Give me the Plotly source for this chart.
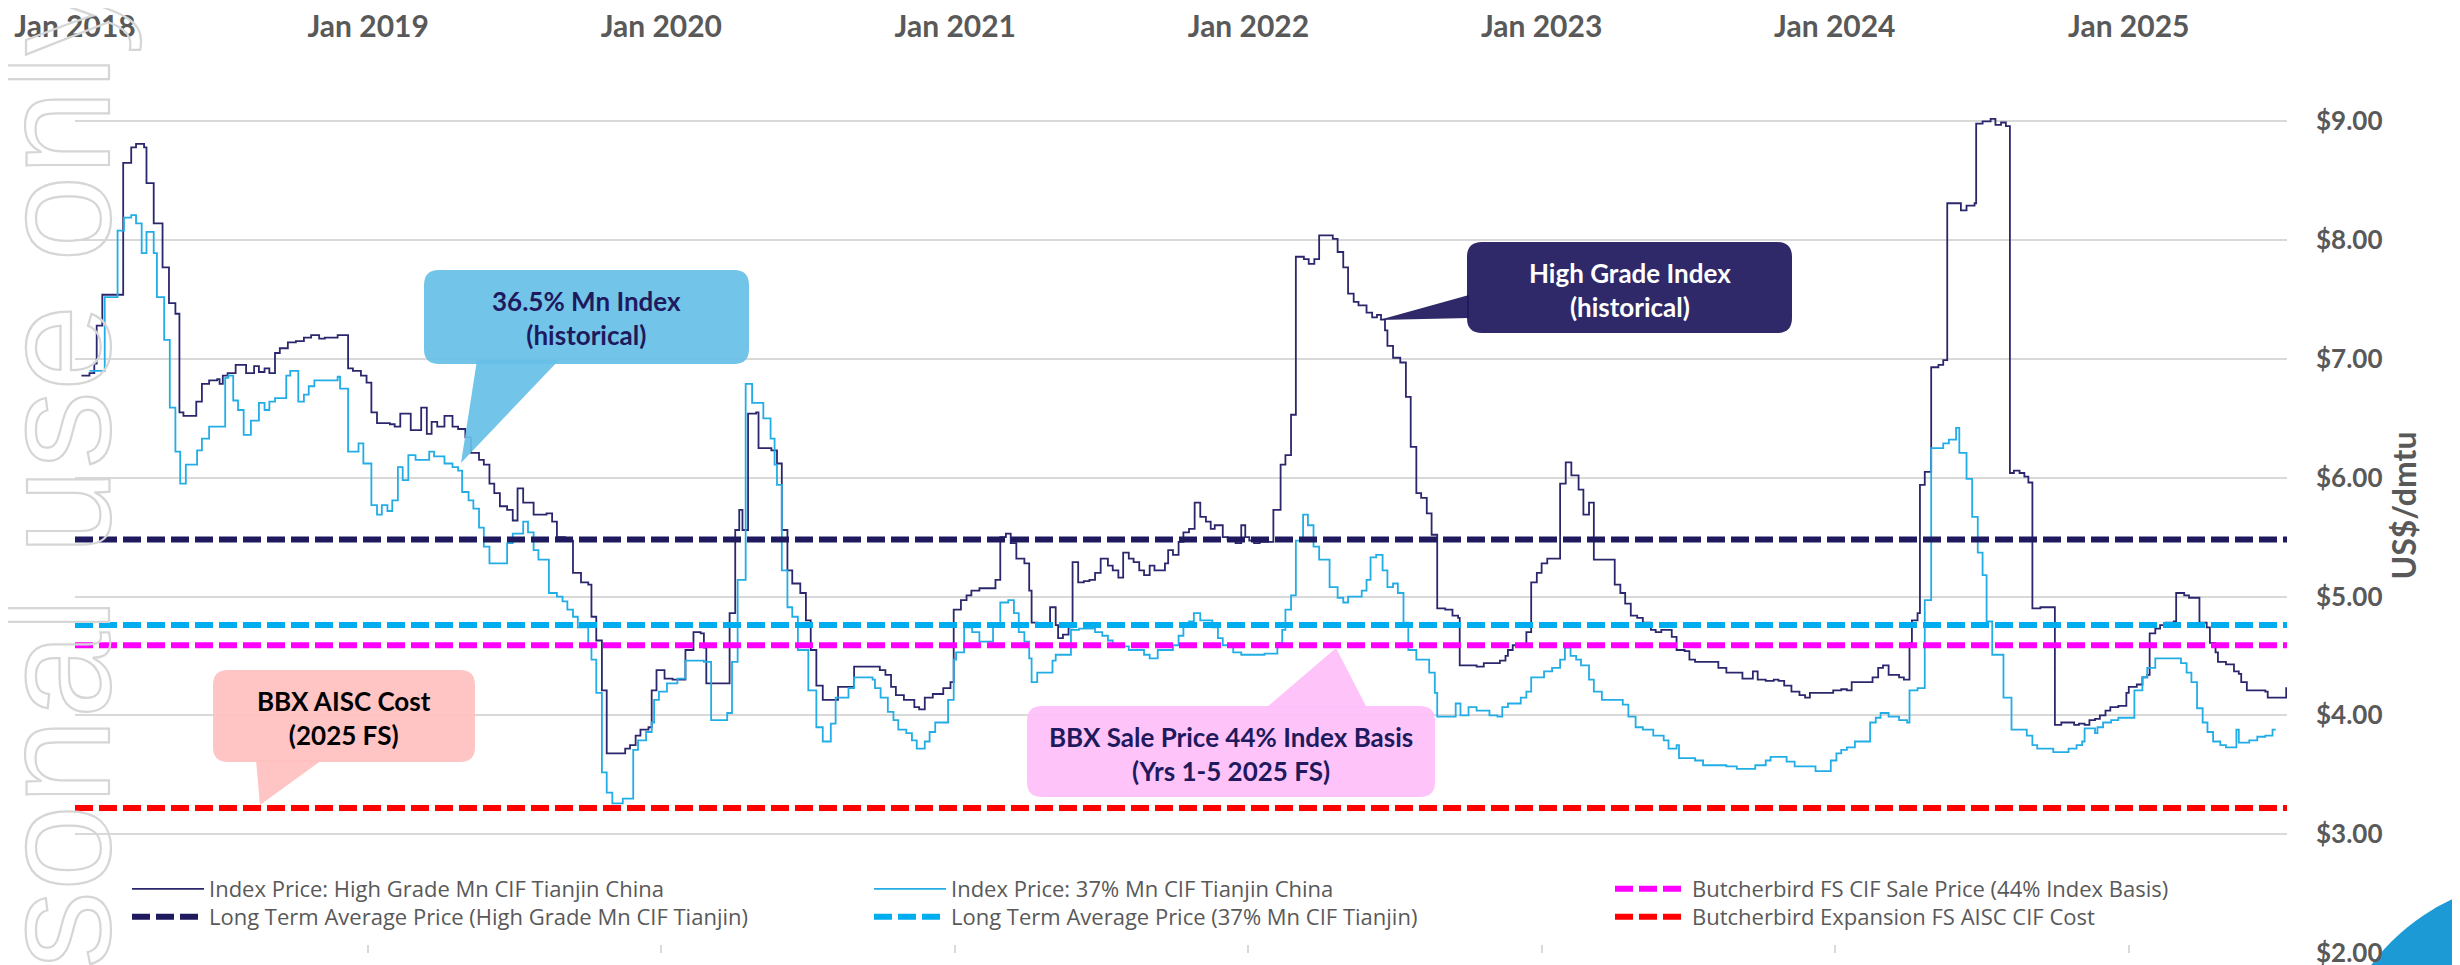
import pandas as pd
import plotly.graph_objects as go

# index prices: day offset from 1 Jan 2018, US$/dmtu (weekly steps)
hg_day = [8, 18, 24, 27, 34, 60, 70, 76, 86, 89, 98, 109, 117, 125, 130, 135, 151, 158, 167, 177,
          180, 184, 190, 200, 213, 223, 229, 236, 242, 249, 255, 265, 275, 285, 294, 304, 311, 327, 340, 346,
          356, 363, 369, 376, 392, 398, 405, 418, 431, 438, 444, 451, 460, 470, 477, 486, 493, 503, 509, 516,
          522, 529, 538, 545, 551, 558, 571, 587, 594, 600, 610, 620, 630, 639, 643, 649, 656, 662, 685, 691,
          698, 704, 714, 718, 724, 734, 744, 760, 770, 779, 783, 786, 815, 822, 827, 831, 838, 848, 851, 867,
          874, 880, 887, 893, 903, 910, 916, 923, 931, 950, 970, 1002, 1009, 1016, 1022, 1032, 1045, 1051, 1058, 1068,
          1081, 1090, 1094, 1103, 1110, 1116, 1126, 1146, 1152, 1159, 1165, 1172, 1182, 1188, 1191, 1198, 1214, 1221, 1224, 1230,
          1237, 1242, 1249, 1256, 1263, 1270, 1277, 1286, 1292, 1299, 1305, 1312, 1318, 1325, 1331, 1338, 1344, 1357, 1361, 1367,
          1374, 1380, 1387, 1394, 1401, 1408, 1414, 1419, 1429, 1435, 1445, 1452, 1457, 1462, 1468, 1475, 1492, 1501, 1507, 1514,
          1520, 1530, 1536, 1543, 1549, 1566, 1572, 1579, 1585, 1592, 1598, 1608, 1615, 1621, 1626, 1631, 1634, 1641, 1650, 1657,
          1663, 1670, 1676, 1683, 1689, 1696, 1706, 1715, 1722, 1724, 1745, 1754, 1774, 1781, 1784, 1790, 1807, 1813, 1820, 1826,
          1833, 1849, 1856, 1863, 1872, 1878, 1885, 1891, 1917, 1924, 1930, 1937, 1945, 1952, 1962, 1968, 1975, 1988, 1994, 2004,
          2010, 2017, 2046, 2056, 2076, 2089, 2095, 2105, 2115, 2121, 2128, 2137, 2147, 2154, 2160, 2189, 2199, 2206, 2212, 2238,
          2245, 2251, 2258, 2271, 2277, 2284, 2287, 2294, 2297, 2303, 2311, 2320, 2326, 2331, 2342, 2348, 2355, 2365, 2367, 2375,
          2385, 2391, 2398, 2404, 2409, 2414, 2421, 2427, 2432, 2437, 2447, 2465, 2473, 2489, 2495, 2502, 2508, 2515, 2521, 2528,
          2534, 2544, 2554, 2557, 2567, 2574, 2580, 2583, 2590, 2596, 2603, 2613, 2616, 2626, 2632, 2642, 2645, 2654, 2658, 2665,
          2668, 2678, 2688, 2694, 2697, 2704, 2727, 2730, 2753, 2757]
hg_val = [6.86, 6.88, 6.96, 7.28, 7.54, 8.65, 8.78, 8.81, 8.78, 8.48, 8.14, 7.77, 7.47, 7.38, 6.55, 6.52, 6.64, 6.79, 6.82, 6.83,
          6.79, 6.86, 6.88, 6.95, 6.88, 6.94, 6.89, 6.92, 6.88, 7.05, 7.09, 7.14, 7.15, 7.18, 7.20, 7.17, 7.18, 7.20, 6.92, 6.90,
          6.86, 6.80, 6.55, 6.46, 6.45, 6.43, 6.54, 6.40, 6.59, 6.37, 6.47, 6.43, 6.52, 6.43, 6.41, 6.34, 6.21, 6.15, 6.11, 5.95,
          5.87, 5.76, 5.73, 5.64, 5.91, 5.79, 5.69, 5.70, 5.63, 5.50, 5.47, 5.20, 5.12, 5.10, 4.83, 4.63, 4.21, 3.68, 3.72, 3.75,
          3.83, 3.88, 3.90, 4.21, 4.38, 4.31, 4.30, 4.55, 4.70, 4.69, 4.57, 4.27, 4.86, 5.56, 5.73, 5.56, 6.54, 6.55, 6.25, 6.23,
          6.12, 5.56, 5.22, 5.11, 5.03, 4.80, 4.55, 4.25, 4.13, 4.24, 4.41, 4.38, 4.34, 4.24, 4.17, 4.13, 4.07, 4.05, 4.15, 4.18,
          4.23, 4.28, 4.89, 4.97, 5.01, 5.05, 5.07, 5.14, 5.50, 5.53, 5.45, 5.32, 5.28, 5.05, 4.78, 4.75, 4.91, 4.76, 4.65, 4.68,
          4.74, 5.29, 5.12, 5.13, 5.14, 5.20, 5.32, 5.26, 5.22, 5.16, 5.37, 5.32, 5.29, 5.22, 5.18, 5.26, 5.22, 5.28, 5.39, 5.35,
          5.46, 5.54, 5.57, 5.79, 5.67, 5.63, 5.57, 5.60, 5.50, 5.48, 5.45, 5.60, 5.50, 5.47, 5.45, 5.46, 5.73, 6.11, 6.19, 6.53,
          7.86, 7.84, 7.80, 7.84, 8.04, 8.01, 7.90, 7.77, 7.55, 7.48, 7.45, 7.39, 7.35, 7.37, 7.33, 7.24, 7.11, 7.01, 6.97, 6.68,
          6.26, 5.87, 5.83, 5.70, 5.52, 4.90, 4.89, 4.84, 4.82, 4.42, 4.41, 4.44, 4.46, 4.50, 4.55, 4.59, 4.70, 5.12, 5.20, 5.28,
          5.32, 5.95, 6.13, 6.02, 5.90, 5.69, 5.79, 5.31, 5.10, 5.03, 4.94, 4.84, 4.82, 4.78, 4.72, 4.70, 4.72, 4.66, 4.55, 4.54,
          4.47, 4.45, 4.40, 4.36, 4.31, 4.37, 4.30, 4.29, 4.30, 4.29, 4.25, 4.20, 4.17, 4.15, 4.19, 4.21, 4.22, 4.21, 4.28, 4.32,
          4.40, 4.42, 4.34, 4.32, 4.30, 4.61, 4.80, 4.86, 5.94, 6.05, 6.93, 6.95, 6.99, 8.31, 8.31, 8.25, 8.29, 8.31, 8.98, 9.00,
          9.02, 8.97, 8.99, 8.96, 6.04, 6.06, 6.04, 6.01, 5.96, 4.90, 4.91, 3.92, 3.94, 3.92, 3.93, 3.92, 3.96, 3.97, 4.00, 4.04,
          4.07, 4.08, 4.19, 4.24, 4.26, 4.32, 4.34, 4.69, 4.73, 4.76, 4.78, 4.79, 5.03, 5.01, 4.99, 4.99, 4.78, 4.74, 4.61, 4.53,
          4.45, 4.43, 4.37, 4.35, 4.28, 4.21, 4.20, 4.15, 4.23, 4.23]

mn37_day = [18, 37, 53, 61, 70, 76, 83, 89, 98, 102, 111, 118, 125, 131, 138, 152, 158, 167, 187, 191,
            197, 203, 210, 219, 229, 236, 242, 249, 263, 268, 278, 285, 291, 298, 327, 330, 340, 353, 359, 369,
            376, 382, 389, 395, 402, 408, 415, 424, 441, 447, 460, 470, 477, 482, 490, 496, 503, 509, 516, 538,
            545, 558, 564, 571, 577, 590, 600, 607, 613, 620, 626, 639, 643, 649, 656, 662, 669, 682, 695, 701,
            711, 718, 721, 727, 737, 750, 760, 783, 792, 812, 818, 825, 835, 843, 857, 866, 871, 874, 880, 887,
            893, 900, 913, 923, 931, 941, 947, 963, 970, 993, 996, 1003, 1012, 1019, 1025, 1035, 1042, 1048, 1058, 1064,
            1071, 1087, 1094, 1097, 1107, 1117, 1126, 1143, 1152, 1162, 1169, 1175, 1182, 1188, 1191, 1198, 1217, 1221, 1240, 1250,
            1270, 1279, 1286, 1292, 1312, 1331, 1338, 1348, 1367, 1374, 1380, 1387, 1393, 1401, 1416, 1423, 1429, 1442, 1452, 1481,
            1497, 1503, 1507, 1514, 1520, 1529, 1535, 1542, 1549, 1562, 1572, 1579, 1585, 1602, 1608, 1613, 1620, 1628, 1634, 1641,
            1647, 1654, 1660, 1670, 1686, 1693, 1696, 1719, 1725, 1735, 1745, 1761, 1771, 1777, 1784, 1800, 1807, 1813, 1829, 1839,
            1849, 1855, 1862, 1869, 1875, 1885, 1891, 1901, 1927, 1934, 1943, 1952, 1965, 1978, 1984, 1994, 1997, 2017, 2027, 2056,
            2069, 2092, 2105, 2111, 2131, 2141, 2167, 2186, 2193, 2199, 2206, 2216, 2235, 2242, 2248, 2258, 2271, 2281, 2284, 2294,
            2303, 2311, 2326, 2333, 2342, 2346, 2355, 2362, 2369, 2375, 2380, 2387, 2401, 2411, 2430, 2437, 2443, 2463, 2482, 2492,
            2499, 2502, 2515, 2518, 2525, 2535, 2544, 2564, 2574, 2580, 2590, 2622, 2629, 2635, 2642, 2649, 2655, 2662, 2671, 2678,
            2691, 2694, 2707, 2717, 2727, 2736, 2740]
mn37_val = [6.90, 7.52, 8.08, 8.19, 8.21, 8.14, 7.89, 8.07, 7.89, 7.52, 7.16, 6.59, 6.22, 5.95, 6.11, 6.23, 6.33, 6.43, 6.84, 6.86,
            6.65, 6.57, 6.36, 6.48, 6.63, 6.57, 6.64, 6.67, 6.86, 6.90, 6.64, 6.70, 6.77, 6.82, 6.85, 6.75, 6.22, 6.29, 6.12, 5.77,
            5.69, 5.77, 5.72, 5.81, 6.09, 5.98, 6.19, 6.15, 6.22, 6.18, 6.12, 6.09, 6.06, 5.88, 5.81, 5.74, 5.58, 5.42, 5.28, 5.45,
            5.53, 5.63, 5.54, 5.39, 5.31, 5.03, 5.00, 4.96, 4.89, 4.83, 4.74, 4.58, 4.47, 4.19, 3.52, 3.35, 3.26, 3.30, 3.71, 3.79,
            3.86, 3.94, 4.13, 4.20, 4.27, 4.31, 4.46, 4.45, 3.96, 4.02, 4.45, 5.14, 6.79, 6.63, 6.50, 6.33, 6.11, 5.94, 5.22, 4.91,
            4.83, 4.55, 4.21, 3.90, 3.78, 3.93, 4.15, 4.23, 4.32, 4.30, 4.23, 4.15, 4.03, 3.96, 3.88, 3.85, 3.79, 3.72, 3.78, 3.86,
            3.94, 4.13, 4.47, 4.53, 4.74, 4.70, 4.62, 4.76, 4.95, 4.97, 4.86, 4.70, 4.62, 4.48, 4.28, 4.36, 4.46, 4.51, 4.72, 4.73,
            4.70, 4.67, 4.63, 4.58, 4.55, 4.51, 4.48, 4.55, 4.59, 4.67, 4.76, 4.79, 4.86, 4.80, 4.74, 4.65, 4.59, 4.53, 4.51, 4.52,
            4.61, 4.72, 4.89, 5.01, 5.47, 5.69, 5.60, 5.42, 5.31, 5.08, 4.99, 4.95, 5.00, 5.05, 5.14, 5.33, 5.35, 5.22, 5.08, 5.11,
            5.03, 4.78, 4.55, 4.47, 4.36, 4.19, 3.99, 4.10, 4.00, 4.07, 4.04, 4.00, 3.99, 4.07, 4.10, 4.15, 4.20, 4.32, 4.37, 4.40,
            4.47, 4.57, 4.50, 4.47, 4.42, 4.30, 4.20, 4.13, 4.09, 3.99, 3.90, 3.88, 3.83, 3.79, 3.72, 3.75, 3.64, 3.62, 3.58, 3.57,
            3.55, 3.58, 3.62, 3.65, 3.61, 3.57, 3.53, 3.62, 3.68, 3.71, 3.73, 3.78, 3.94, 3.98, 4.02, 3.99, 3.96, 3.94, 4.21, 4.23,
            4.97, 6.25, 6.29, 6.32, 6.42, 6.21, 5.99, 5.67, 5.37, 5.18, 4.79, 4.51, 4.15, 3.88, 3.83, 3.75, 3.72, 3.69, 3.72, 3.75,
            3.78, 3.89, 3.85, 3.90, 3.94, 3.96, 3.98, 4.21, 4.32, 4.40, 4.48, 4.44, 4.36, 4.28, 4.06, 3.94, 3.86, 3.78, 3.75, 3.73,
            3.88, 3.77, 3.79, 3.82, 3.83, 3.88, 3.88]

# flat reference prices
avg_names = ["Long Term Average Price (High Grade Mn CIF Tianjin)",
             "Long Term Average Price (37% Mn CIF Tianjin)",
             "Butcherbird FS CIF Sale Price (44% Index Basis)",
             "Butcherbird Expansion FS AISC CIF Cost"]
avg_vals = [5.48, 4.76, 4.59, 3.22]
avg_colors = ["#1f1a5e", "#00aeef", "#ff00ff", "#ff0000"]

x_range = ["2018-01-01", "2025-07-17"]
base = pd.Timestamp("2018-01-01")

# plot area in page pixels, used to place callouts; the page body adds an 8px offset
W, H = 2460, 965
PL, PR, PT, PB = 75, 2287, 50, 953
OFF = 8


def px(x):
    return (x - PL) / (PR - PL)


def py(y):
    return (PB - y) / (PB - PT)


def pt(x, y):
    return f"{px(x):.5f},{py(y):.5f}"


def box_path(x0, y0, x1, y1, r):
    return ("M" + pt(x0 + r, y0) + " L" + pt(x1 - r, y0) + " Q" + pt(x1, y0) + " " + pt(x1, y0 + r) +
            " L" + pt(x1, y1 - r) + " Q" + pt(x1, y1) + " " + pt(x1 - r, y1) +
            " L" + pt(x0 + r, y1) + " Q" + pt(x0, y1) + " " + pt(x0, y1 - r) +
            " L" + pt(x0, y0 + r) + " Q" + pt(x0, y0) + " " + pt(x0 + r, y0) + " Z")


GREY = "#595959"
fig = go.Figure()

fig.add_trace(go.Scatter(x=base + pd.to_timedelta(hg_day, unit="D"), y=hg_val, mode="lines",
                         line=dict(color="#2b276c", width=1.8, shape="hv"),
                         name="Index Price: High Grade Mn CIF Tianjin China", legend="legend"))
fig.add_trace(go.Scatter(x=base + pd.to_timedelta(mn37_day, unit="D"), y=mn37_val, mode="lines",
                         line=dict(color="#22ade6", width=1.8, shape="hv"),
                         name="Index Price: 37% Mn CIF Tianjin China", legend="legend2"))

avg_legends = ["legend4", "legend5", "legend3", "legend6"]
for name, val, col, lg in zip(avg_names, avg_vals, avg_colors, avg_legends):
    fig.add_trace(go.Scatter(x=x_range, y=[val, val], mode="lines", xaxis="x2",
                             line=dict(color=col, width=6, dash="18px,6px"),
                             name=name, legend=lg))

# six one-item legends laid out as 3 columns x 2 rows
leg_pos = {"legend": (127, 889), "legend2": (869, 889), "legend3": (1610, 889),
           "legend4": (127, 917), "legend5": (869, 917), "legend6": (1610, 917)}
leg_font = dict(family="Liberation Sans Narrow, Open Sans", size=22, color=GREY)
legends = {}
for key, (lx, ly) in leg_pos.items():
    legends[key] = dict(x=px(lx), xanchor="left", y=py(ly), yanchor="middle",
                        itemwidth=72, font=leg_font, bgcolor="rgba(0,0,0,0)")

# callouts: box, wedge, text
callouts = [
    dict(box=(424, 270, 749, 364), wedge=[(477, 360), (461, 463), (559, 360)], fill="#67bfe7",
         text="36.5% Mn Index<br>(historical)", color="#1f1a5e", c=(586, 318)),
    dict(box=(1467, 242, 1792, 333), wedge=[(1469, 295), (1379, 320), (1469, 318)], fill="#1f195e",
         text="High Grade Index<br>(historical)", color="white", c=(1630, 290)),
    dict(box=(213, 670, 475, 762), wedge=[(256, 760), (260, 805), (322, 760)], fill="#ffbfbf",
         text="BBX AISC Cost<br>(2025 FS)", color="black", c=(344, 718)),
    dict(box=(1027, 706, 1435, 797), wedge=[(1266, 708), (1336, 648), (1367, 708)], fill="#fec0fa",
         text="BBX Sale Price 44% Index Basis<br>(Yrs 1-5 2025 FS)", color="#1f1a5e", c=(1231, 754)),
]
shapes = []
annotations = []
for c in callouts:
    shapes.append(dict(type="path", xref="paper", yref="paper", path=box_path(*c["box"], 15),
                       fillcolor=c["fill"], line=dict(width=0), opacity=0.93))
    a, b, d = c["wedge"]
    shapes.append(dict(type="path", xref="paper", yref="paper",
                       path="M" + pt(*a) + " L" + pt(*b) + " L" + pt(*d) + " Z",
                       fillcolor=c["fill"], line=dict(width=0), opacity=0.93))
    annotations.append(dict(xref="paper", yref="paper", x=px(c["c"][0]), y=py(c["c"][1]),
                            text=c["text"], showarrow=False, xanchor="center", yanchor="middle",
                            font=dict(family="Lato", size=26, color=c["color"], weight=700)))

# blue corner mark
shapes.append(dict(type="circle", xref="paper", yref="paper", layer="below",
                   x0=px(2330), x1=px(2750), y0=py(1300), y1=py(880),
                   fillcolor="#1b9ad6", line=dict(width=0)))

annotations.append(dict(xref="paper", yref="paper", x=px(2424), y=py(506), text="US$/dmtu",
                        textangle=-90, showarrow=False,
                        font=dict(family="Lato", size=32, color=GREY, weight=700)))
# outlined watermark along the left edge
annotations.append(dict(xref="paper", yref="paper", x=px(-33), y=py(1470),
                        text='<span style="fill:none;stroke:#d6d6d6;stroke-width:2.2px">For personal use only</span>',
                        textangle=-90, showarrow=False,
                        font=dict(family="Liberation Sans", size=155, color="#d6d6d6")))

fig.update_layout(
    width=W, height=H,
    margin=dict(l=PL - OFF, r=W - PR + OFF, t=PT - OFF, b=H - PB + OFF),
    paper_bgcolor="white", plot_bgcolor="white",
    font=dict(family="Lato", color=GREY),
    showlegend=True,
    xaxis=dict(type="date", range=x_range, side="top", tickformat="%b %Y", dtick="M12",
               tick0="2018-01-01", showgrid=False, zeroline=False, ticks="", ticklabelstandoff=6,
               automargin=False, ticklabeloverflow="allow",
               tickfont=dict(family="Lato", size=30, color=GREY, weight=700)),
    xaxis2=dict(type="date", range=x_range, overlaying="x", side="bottom", anchor="y",
                dtick="M12", tick0="2018-01-01", showgrid=False, zeroline=False, automargin=False,
                showticklabels=False, ticks="inside", ticklen=8, tickwidth=2, tickcolor="#d9d9d9"),
    yaxis=dict(range=[2, 9.6], side="right", dtick=1, tick0=2, tickprefix="$", tickformat=".2f",
               showgrid=True, gridcolor="#d9d9d9", gridwidth=1.5, zeroline=False, ticks="",
               automargin=False, ticklabelstandoff=28, ticklabeloverflow="allow",
               tickfont=dict(family="Lato", size=26, color=GREY, weight=700)),
    shapes=shapes,
    annotations=annotations,
    hovermode=False,
    **legends,
)

fig.write_html("out.html")
